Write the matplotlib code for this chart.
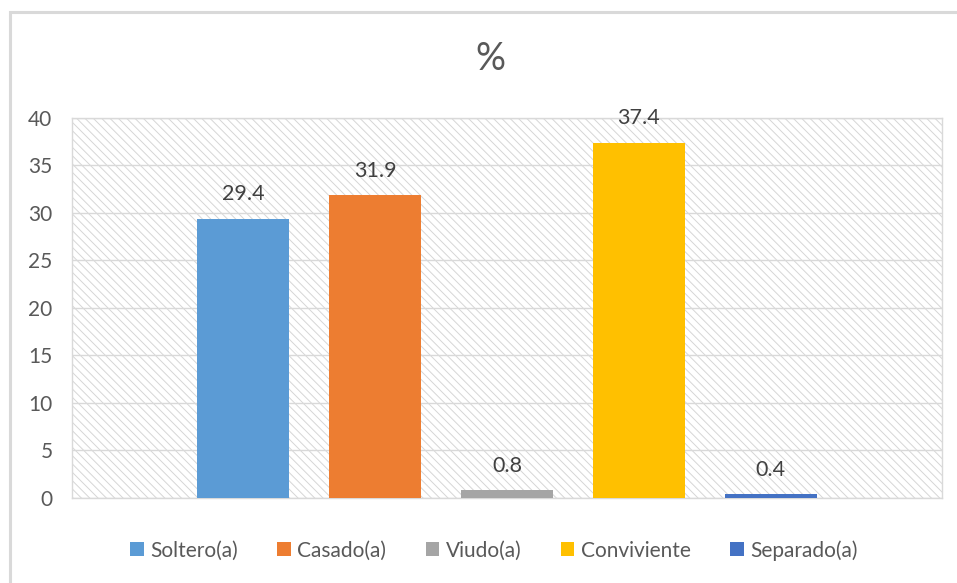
import matplotlib
matplotlib.use("Agg")
import matplotlib.pyplot as plt
from matplotlib.patches import Rectangle
import numpy as np

# estado civil, en porcentaje
categorias = ["Soltero(a)", "Casado(a)", "Viudo(a)", "Conviviente", "Separado(a)"]
porcentajes = [29.4, 31.9, 0.8, 37.4, 0.4]
colores = ["#5B9BD5", "#ED7D31", "#A5A5A5", "#FFC000", "#4472C4"]
yticks = [0, 5, 10, 15, 20, 25, 30, 35, 40]

plt.rcParams["font.family"] = ["Lato", "DejaVu Sans"]
plt.rcParams["hatch.linewidth"] = 0.7

fig = plt.figure(figsize=(9.57, 5.83), dpi=100)
ax = fig.add_axes([0.0752, 0.1458, 0.9091, 0.6518])

# fondo rayado del area de trazado
ax.set_facecolor("white")
ax.add_patch(Rectangle((0, 0), 1, 1, transform=ax.transAxes, facecolor="white",
                       edgecolor="#d6d6d6", hatch="\\\\\\\\", lw=0, zorder=0))

ancho = 0.1057
paso = 0.1517
for i, (cat, val, col) in enumerate(zip(categorias, porcentajes, colores)):
    x = (i - 2) * paso
    ax.bar(x, val, width=ancho, color=col, label=cat, zorder=3)
    ax.text(x, val + 1.5, f"{val:.1f}", ha="center", va="bottom",
            fontsize=15.5, color="#404040", zorder=4)

ax.set_xlim(-0.5, 0.5)
ax.set_ylim(0, 40)
ax.set_yticks(yticks)
ax.set_xticks([])
ax.yaxis.grid(True, color="#d9d9d9", lw=1, zorder=1)
ax.set_axisbelow(True)
ax.tick_params(axis="y", length=0, pad=14, labelsize=15, labelcolor="#595959")
for s in ax.spines.values():
    s.set_color("#d9d9d9")
    s.set_linewidth(1)

fig.text(0.512, 0.899, "%", ha="center", va="center", fontsize=27, color="#595959")

leg = fig.legend(loc="center", bbox_to_anchor=(0.516, 0.056), ncol=5, frameon=False,
                 fontsize=15, handlelength=0.65, handleheight=0.65, handletextpad=0.3,
                 columnspacing=1.9, labelcolor="#595959")

# borde exterior del grafico
fig.patches.append(Rectangle((10 / 957, -0.1), 1.2, 1 - 12 / 583 + 0.1,
                             transform=fig.transFigure, fill=False,
                             edgecolor="#d9d9d9", lw=2.2))

fig.savefig("out.png", dpi=100)
